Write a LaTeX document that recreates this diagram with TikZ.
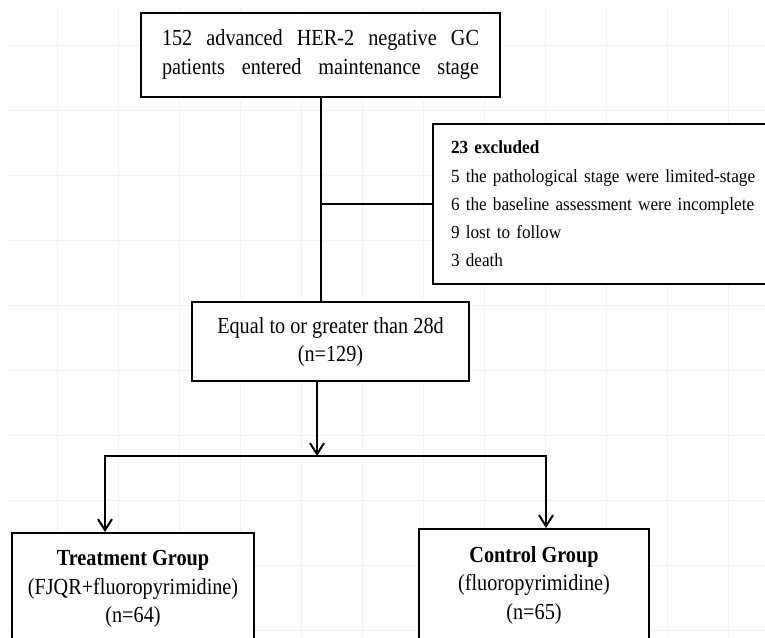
\documentclass[tikz,border=0pt]{standalone}
\usepackage{fontspec}
\setmainfont{Liberation Serif}[FakeStretch=0.88]
\newfontfamily\exfont{Liberation Serif}[FakeStretch=0.93]
\usetikzlibrary{arrows.meta}
\tikzset{
  box/.style={draw=black, line width=2pt, fill=white, inner sep=0pt, align=center},
  conn/.style={line width=2pt, line join=miter},
  arr/.style={conn, -{Straight Barb[length=11pt,width=14pt]}},
  arrboth/.style={conn, {Straight Barb[length=11pt,width=14pt]}-{Straight Barb[length=11pt,width=14pt]}},
  gridline/.style={draw=black!5, line width=1pt}
}
\begin{document}
\begin{tikzpicture}[x=1pt,y=-1pt]
\useasboundingbox (0,0) rectangle (765,637);
\clip (0,0) rectangle (765,637);
\foreach \gx in {57,118,...,765} \draw[gridline] (\gx,8) -- (\gx,637);
\foreach \gy in {45,110,...,637} \draw[gridline] (7,\gy) -- (765,\gy);

\node[box, minimum width=359pt, minimum height=84pt, font=\fontsize{23}{29}\selectfont] (top) at (320.5,55)
  {\makebox[317pt][s]{152 advanced HER-2 negative GC}\\\makebox[317pt][s]{patients entered maintenance stage}};

\node[box, minimum width=277pt, minimum height=79pt, font=\fontsize{23}{28}\selectfont] (eq) at (330.5,341.5)
  {Equal to or greater than 28d\\(n=129)};

\node[box, anchor=west, minimum height=160pt, text width=330pt, inner xsep=18pt, align=left,
      font=\exfont\fontsize{18.5}{28.3}\selectfont] (ex) at (432,204)
  {\textbf{23 excluded}\\5 the pathological stage were limited-stage\\6 the baseline assessment were incomplete\\9 lost to follow\\3 death};

\node[box, minimum width=242pt, minimum height=112pt, font=\fontsize{23}{28.5}\selectfont] (tg) at (133,589)
  {\textbf{Treatment Group}\\(FJQR+fluoropyrimidine)\\(n=64)};

\node[box, minimum width=230pt, minimum height=112pt, font=\fontsize{23}{28.5}\selectfont] (cg) at (534,585)
  {\textbf{Control Group}\\(fluoropyrimidine)\\(n=65)};

\draw[conn] (top.south) -- (top.south |- eq.north);
\draw[conn] (top.south |- ex.west) -- (ex.west);

\coordinate (split) at (317,456);
\coordinate (bl) at (105,456);
\coordinate (br) at (546,456);
\draw[arr] (split |- eq.south) -- (split);
\draw[arrboth] (bl |- tg.north) -- (bl) -- (br) -- (br |- cg.north);
\end{tikzpicture}
\end{document}
